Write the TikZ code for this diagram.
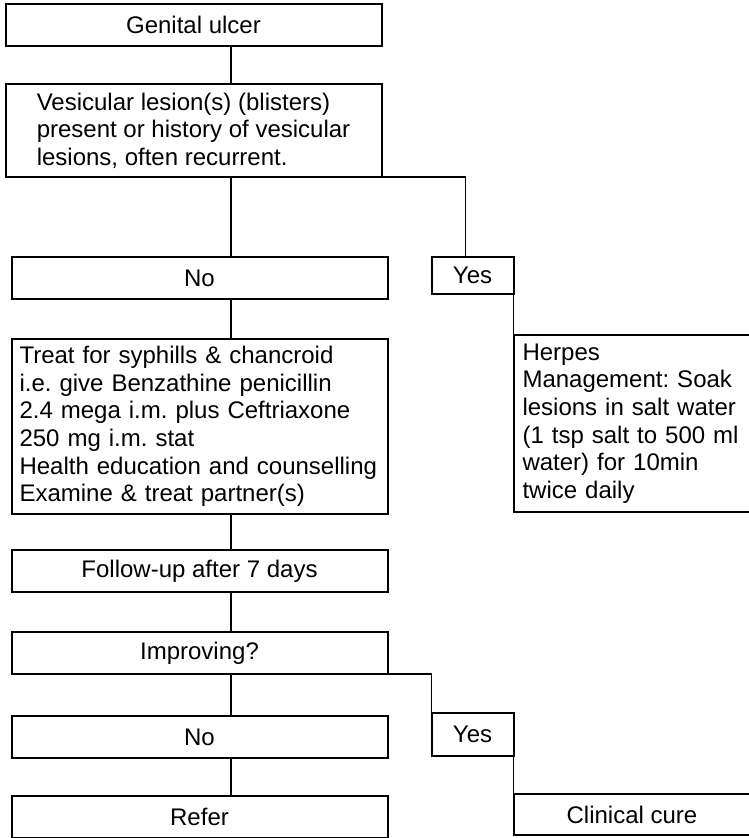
\documentclass[tikz,border=0pt]{standalone}
\usepackage{fontspec}
\setmainfont{Liberation Sans}
\usetikzlibrary{positioning}
\frenchspacing

\begin{document}
\begin{tikzpicture}[%
    node distance=20pt and 22pt,              % Vertical and horizontal box gaps
    font=\fontsize{12}{13.8}\selectfont,      % Arial-like text everywhere
    ]
% -------------------------------------------------
% A few box styles
\tikzset{
  base/.style={draw, line width=1pt, rectangle, outer sep=0pt, minimum height=21pt, inner ysep=2pt},
  wide/.style={base, minimum width=188pt},
  txt/.style={base, align=left, inner xsep=4pt, text width=180pt},
  side/.style={base, align=left, inner xsep=4.5pt, text width=109.5pt},
  ans/.style={base, minimum width=41pt},
  % Connector line style
  link/.style={draw, line width=0.8pt},
}
% -------------------------------------------------
% Page size and the main vertical line
\useasboundingbox (0,0) rectangle (374pt,-419pt);
\coordinate (spine) at (115.5pt,0);

% Left column, top to bottom
\node [wide] (gu) at (96.75pt,-12.5pt) {Genital ulcer};
\node [wide, below=19pt of gu, align=left, minimum height=46.5pt] (ves)
  {Vesicular lesion(s) (blisters)\\present or history of vesicular\\lesions, often recurrent.};
\node [wide, below=40pt of ves, xshift=3pt] (no1) {No};
\node [txt, below=of no1, minimum height=87.5pt] (treat)
  {Treat for syphills \& chancroid\\i.e. give Benzathine penicillin\\2.4 mega i.m. plus Ceftriaxone\\250 mg i.m. stat\\Health education and counselling\\Examine \& treat partner(s)};
\node [wide, below=18pt of treat] (fu) {Follow-up after 7 days};
\node [wide, below=of fu] (imp) {Improving?};
\node [wide, below=21pt of imp] (no2) {No};
\node [wide, below=19pt of no2] (ref) {Refer};

% Right branches
\node [ans, right=of no1.north east, anchor=north west, minimum height=18.5pt] (yes1) {Yes};
\node [side, below=20.5pt of yes1.south east, anchor=north west, minimum height=88.5pt] (herp)
  {Herpes\\Management: Soak\\lesions in salt water\\(1 tsp salt to 500 ml\\water) for 10min\\twice daily};
\node [ans, right=of no2.north east, anchor=north west, yshift=1.5pt, minimum height=21.5pt] (yes2) {Yes};
\node [ans, below=19pt of yes2.south east, anchor=north west, minimum width=118.5pt, minimum height=20.5pt] (cure) {Clinical cure};

% -------------------------------------------------
% Connectors
\draw [link] (gu.south -| spine) -- (ves.north -| spine);
\draw [link] (ves.south -| spine) -- (no1.north -| spine);
\draw [link] (no1.south -| spine) -- (treat.north -| spine);
\draw [link] (treat.south -| spine) -- (fu.north -| spine);
\draw [link] (fu.south -| spine) -- (imp.north -| spine);
\draw [link] (imp.south -| spine) -- (no2.north -| spine);
\draw [link] (no2.south -| spine) -- (ref.north -| spine);

\draw [link] (ves.south east) -| ([xshift=-3.5pt]yes1.north);
\draw [link] (yes1.south east) -- (herp.north west);
\draw [link] (imp.south east) -| (yes2.north west);
\draw [link] (yes2.south east) -- (cure.north west);

% -------------------------------------------------
\end{tikzpicture}
\end{document}
